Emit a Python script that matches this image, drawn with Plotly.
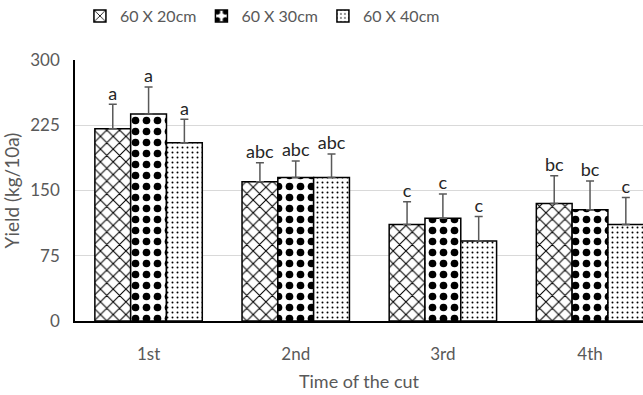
import plotly.graph_objects as go

categories = ["1st", "2nd", "3rd", "4th"]
series_names = ["60 X 20cm", "60 X 30cm", "60 X 40cm"]
values_20 = [221, 160, 111, 135]
values_30 = [238, 165, 118, 128]
values_40 = [205, 165, 92, 111]
err_20 = [28, 22, 26, 32]
err_30 = [31, 19, 28, 33]
err_40 = [27, 27, 28, 31]
letters_20 = ["a", "abc", "c", "bc"]
letters_30 = ["a", "abc", "c", "bc"]
letters_40 = ["a", "abc", "c", "c"]
y_ticks = [0, 75, 150, 225, 300]

FONT = "Lato, Open Sans, sans-serif"
GRAY = "#595959"

patterns = [
    dict(shape="x", fgcolor="black", bgcolor="white", size=9, solidity=0.22, fgopacity=1),
    dict(shape=".", fgcolor="black", bgcolor="white", size=11, solidity=0.38, fgopacity=1),
    dict(shape=".", fgcolor="black", bgcolor="white", size=5, solidity=0.12, fgopacity=1),
]
vals = [values_20, values_30, values_40]
errs = [err_20, err_30, err_40]
lets = [letters_20, letters_30, letters_40]

fig = go.Figure()
for i in range(3):
    fig.add_trace(go.Bar(
        x=categories, y=vals[i], name=series_names[i],
        marker=dict(color="white", pattern=patterns[i],
                    line=dict(color="black", width=1.5)),
        error_y=dict(type="data", symmetric=False, array=errs[i],
                     arrayminus=[0] * len(categories),
                     color=GRAY, thickness=1.5, width=4),
    ))
for i in range(3):
    fig.add_trace(go.Scatter(
        x=categories, y=[v + e for v, e in zip(vals[i], errs[i])],
        mode="text", text=lets[i], textposition="top center",
        textfont=dict(family=FONT, size=18, color="#262626"),
        showlegend=False, hoverinfo="skip",
    ))

fig.update_layout(
    width=643, height=395,
    margin=dict(l=75, r=0, t=60, b=74),
    paper_bgcolor="white", plot_bgcolor="white",
    barmode="group", bargap=0.27, bargroupgap=0,
    scattermode="group", scattergap=0.27,
    font=dict(family=FONT, size=15, color=GRAY),
    legend=dict(orientation="h", x=0.33, xanchor="center",
                y=1 - 16 / 395, yref="container", yanchor="middle",
                font=dict(family=FONT, size=16, color=GRAY),
                itemwidth=30, tracegroupgap=0),
    showlegend=True,
)
fig.update_xaxes(
    range=[-0.5, 3.36], showline=True, linecolor="black", linewidth=1.5,
    showgrid=False, ticks="", ticklabelstandoff=17,
    title=dict(text="Time of the cut", standoff=12,
               font=dict(family=FONT, size=18, color=GRAY)),
    tickfont=dict(family=FONT, size=17, color=GRAY),
)
fig.update_yaxes(
    range=[0, 300], tickvals=y_ticks, showline=True, linecolor="black",
    linewidth=1.5, showgrid=True, gridcolor="#d9d9d9", gridwidth=1,
    ticks="", ticklabelstandoff=10, zeroline=False,
    title=dict(text="Yield (kg/10a)", standoff=10,
               font=dict(family=FONT, size=19, color=GRAY)),
    tickfont=dict(family=FONT, size=17, color=GRAY),
)

fig.write_html("out.html")
